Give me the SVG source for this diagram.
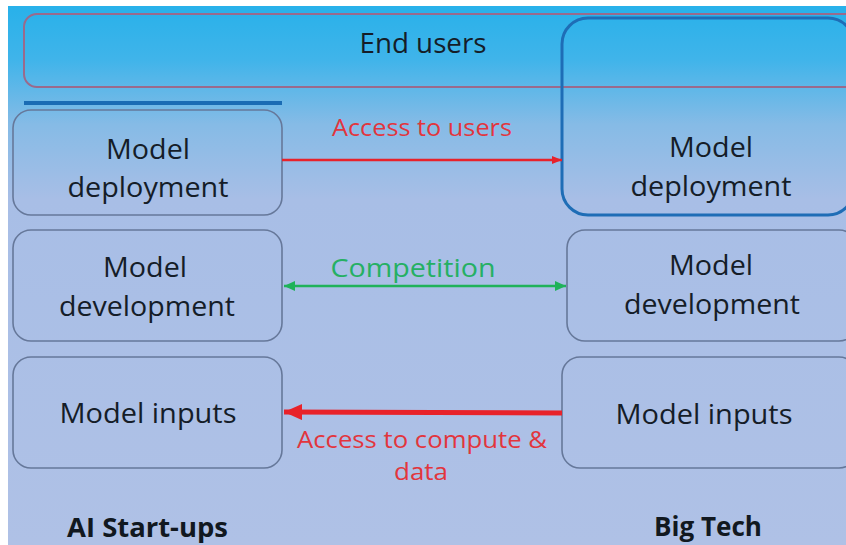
<svg xmlns="http://www.w3.org/2000/svg" width="846" height="545" viewBox="0 0 846 545">
  <defs>
    <linearGradient id="bg" x1="0" y1="0" x2="0" y2="1">
      <stop offset="0" stop-color="#28b1ea"/>
      <stop offset="0.1" stop-color="#40b4ea"/>
      <stop offset="0.22" stop-color="#86bbe6"/>
      <stop offset="0.36" stop-color="#a8bee6"/>
      <stop offset="1" stop-color="#afc1e6"/>
    </linearGradient>
    <marker id="redHead" markerWidth="10" markerHeight="8" refX="10" refY="4" orient="auto" markerUnits="userSpaceOnUse">
      <path d="M0,0 L10,4 L0,8 Z" fill="#e8222a"/>
    </marker>
    <marker id="redHeadBig" markerWidth="18" markerHeight="16" refX="18" refY="8" orient="auto" markerUnits="userSpaceOnUse">
      <path d="M0,0 L18,8 L0,16 Z" fill="#e8222a"/>
    </marker>
    <marker id="greenEnd" markerWidth="11" markerHeight="10" refX="11" refY="5" orient="auto" markerUnits="userSpaceOnUse">
      <path d="M0,0 L11,5 L0,10 Z" fill="#1fb25a"/>
    </marker>
    <marker id="greenStart" markerWidth="11" markerHeight="10" refX="0" refY="5" orient="auto" markerUnits="userSpaceOnUse">
      <path d="M11,0 L0,5 L11,10 Z" fill="#1fb25a"/>
    </marker>
  </defs>
  <style>
    .box { fill: none; stroke: #66789a; stroke-width: 1.6; }
    .lbl { font-family: "Open Sans", "Liberation Sans", sans-serif; font-size: 27px; fill: #151d28; text-anchor: middle; }
    .red { font-family: "Open Sans", "Liberation Sans", sans-serif; font-size: 24px; fill: #e2353d; text-anchor: middle; }
    .green { font-family: "Open Sans", "Liberation Sans", sans-serif; font-size: 26px; fill: #25b063; text-anchor: middle; }
    .side { font-family: "Open Sans", "Liberation Sans", sans-serif; font-size: 26px; font-weight: bold; fill: #111820; }
  </style>
  <rect x="0" y="0" width="846" height="545" fill="#ffffff"/>
  <rect x="8" y="6" width="838" height="539" fill="url(#bg)"/>

  <g id="end-users">
    <rect x="24" y="14" width="840" height="73" rx="13" fill="none" stroke="#9a6a8c" stroke-width="2"/>
    <text class="lbl" x="423" y="53" textLength="127" lengthAdjust="spacingAndGlyphs">End users</text>
  </g>

  <g id="startup-bar">
    <rect x="24" y="101" width="258" height="4" fill="#1a6cb4"/>
  </g>

  <g id="startup-deployment">
    <rect class="box" x="13" y="110" width="269" height="105" rx="18"/>
    <text class="lbl" x="148" y="159" textLength="84" lengthAdjust="spacingAndGlyphs">Model</text>
    <text class="lbl" x="148" y="197" textLength="161" lengthAdjust="spacingAndGlyphs">deployment</text>
  </g>

  <g id="startup-development">
    <rect class="box" x="13" y="230" width="269" height="111" rx="18"/>
    <text class="lbl" x="145" y="277" textLength="84" lengthAdjust="spacingAndGlyphs">Model</text>
    <text class="lbl" x="147" y="316" textLength="176" lengthAdjust="spacingAndGlyphs">development</text>
  </g>

  <g id="startup-inputs">
    <rect class="box" x="13" y="357" width="269" height="111" rx="18"/>
    <text class="lbl" x="148" y="423" textLength="177" lengthAdjust="spacingAndGlyphs">Model inputs</text>
  </g>

  <g id="bigtech-deployment">
    <rect x="562" y="18" width="292" height="197" rx="26" fill="none" stroke="#1e6db6" stroke-width="3"/>
    <text class="lbl" x="711" y="157" textLength="84" lengthAdjust="spacingAndGlyphs">Model</text>
    <text class="lbl" x="711" y="196" textLength="161" lengthAdjust="spacingAndGlyphs">deployment</text>
  </g>

  <g id="bigtech-development">
    <rect class="box" x="567" y="230" width="290" height="111" rx="18"/>
    <text class="lbl" x="711" y="275" textLength="84" lengthAdjust="spacingAndGlyphs">Model</text>
    <text class="lbl" x="712" y="314" textLength="176" lengthAdjust="spacingAndGlyphs">development</text>
  </g>

  <g id="bigtech-inputs">
    <rect class="box" x="562" y="357" width="295" height="111" rx="18"/>
    <text class="lbl" x="704" y="424" textLength="177" lengthAdjust="spacingAndGlyphs">Model inputs</text>
  </g>

  <g id="connectors">
    <line x1="282" y1="160" x2="562" y2="160" stroke="#e8222a" stroke-width="2.5" marker-end="url(#redHead)"/>
    <line x1="284" y1="286" x2="566" y2="286" stroke="#1fb25a" stroke-width="2.5" marker-start="url(#greenStart)" marker-end="url(#greenEnd)"/>
    <line x1="562" y1="413" x2="284" y2="412" stroke="#e8222a" stroke-width="5" marker-end="url(#redHeadBig)"/>
  </g>

  <g id="connector-labels">
    <text class="red" x="422" y="136" textLength="180" lengthAdjust="spacingAndGlyphs">Access to users</text>
    <text class="green" x="413" y="277" textLength="165" lengthAdjust="spacingAndGlyphs">Competition</text>
    <text class="red" x="422" y="448" textLength="250" lengthAdjust="spacingAndGlyphs">Access to compute &amp;</text>
    <text class="red" x="421" y="480" textLength="54" lengthAdjust="spacingAndGlyphs">data</text>
  </g>

  <g id="side-labels">
    <text class="side" x="67" y="537" font-size="25" textLength="161" lengthAdjust="spacingAndGlyphs">AI Start-ups</text>
    <text class="side" x="654" y="536" textLength="108" lengthAdjust="spacingAndGlyphs">Big Tech</text>
  </g>
</svg>
